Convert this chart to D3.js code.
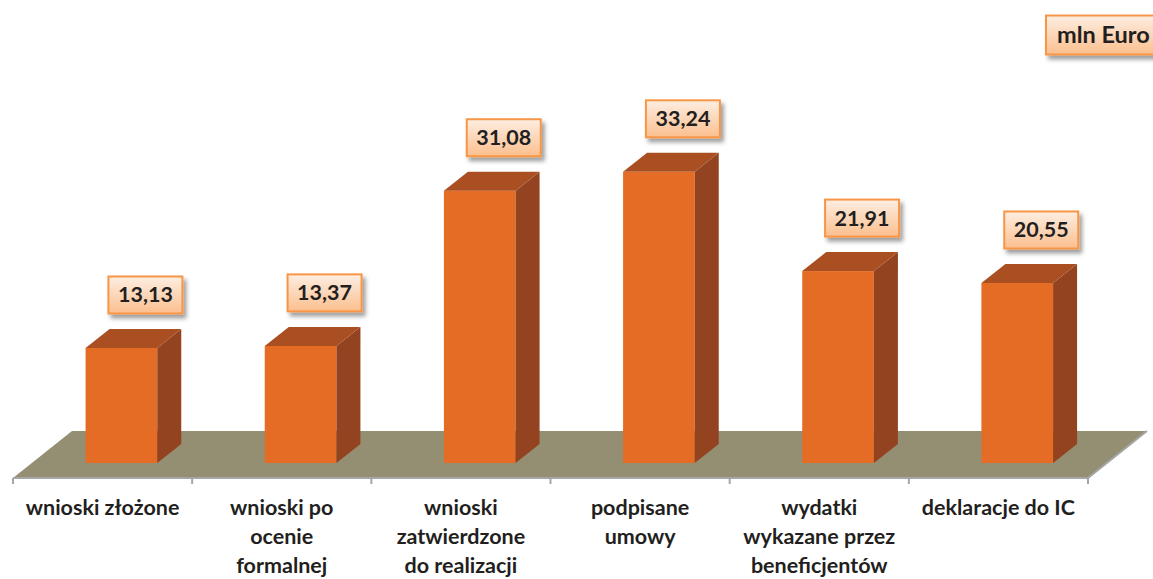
<!DOCTYPE html>
<html><head><meta charset="utf-8">
<script src="https://cdn.jsdelivr.net/npm/d3@7"></script>
<style>body{margin:0;background:#fff;} svg{display:block;}</style>
</head><body>
<svg id="c" width="1153" height="579"></svg>
<script>
const categories = [
  ["wnioski złożone"],
  ["wnioski po","ocenie","formalnej"],
  ["wnioski","zatwierdzone","do realizacji"],
  ["podpisane","umowy"],
  ["wydatki","wykazane przez","beneficjentów"],
  ["deklaracje do IC"]
];
const values = [13.13, 13.37, 31.08, 33.24, 21.91, 20.55];
const valueLabels = ["13,13","13,37","31,08","33,24","21,91","20,55"];
const unitLabel = "mln Euro";

const svg = d3.select("#c");
const font = "Lato, 'Open Sans', sans-serif";

// floor geometry
const floorFrontY = 478, floorDepthX = 59, floorDepthY = 47;
const axisLeft = 13, axisRight = 1088;
const barBaseY = 463;               // front bottom of bars
const frontShift = (floorFrontY - barBaseY) * floorDepthX / floorDepthY;
const barDX = 24, barDY = 19;

const idx = d3.range(values.length);
const x = d3.scaleBand().domain(idx).range([axisLeft, axisRight]).paddingInner(0.6).paddingOuter(0.3);
const y = d3.scaleLinear().domain([0, 40]).range([barBaseY, barBaseY - 40 * 8.76]);

const defs = svg.append("defs");
const g = defs.append("linearGradient").attr("id","boxg").attr("x1",0).attr("y1",0).attr("x2",0).attr("y2",1);
g.append("stop").attr("offset","0%").attr("stop-color","#fdeee2");
g.append("stop").attr("offset","100%").attr("stop-color","#fbbf8e");
const f = defs.append("filter").attr("id","sh").attr("x","-20%").attr("y","-20%").attr("width","150%").attr("height","160%");
f.append("feDropShadow").attr("dx",3).attr("dy",4).attr("stdDeviation",2.2).attr("flood-color","#000").attr("flood-opacity",0.38);

// floor
const fl = [[axisLeft, floorFrontY],[axisLeft+floorDepthX, floorFrontY-floorDepthY],[axisRight+floorDepthX, floorFrontY-floorDepthY],[axisRight, floorFrontY]];
svg.append("polygon").attr("points", fl.map(p=>p.join(",")).join(" ")).attr("fill","#948f72");
svg.append("polyline").attr("points", [[axisLeft, floorFrontY],[axisRight, floorFrontY],[axisRight+floorDepthX, floorFrontY-floorDepthY]].map(p=>p.join(",")).join(" "))
  .attr("fill","none").attr("stroke","#a6a6a6").attr("stroke-width",2);

// ticks at category boundaries
const bounds = d3.range(values.length+1).map(i => axisLeft + i * x.step());
svg.append("g").selectAll("line").data(bounds).join("line")
  .attr("x1",d=>d).attr("x2",d=>d).attr("y1",floorFrontY).attr("y2",floorFrontY+6)
  .attr("stroke","#a6a6a6").attr("stroke-width",2);

// bars
const bars = svg.append("g").selectAll("g").data(idx).join("g");
bars.each(function(i){
  const sel = d3.select(this);
  const x0 = x(i) + frontShift, x1 = x0 + x.bandwidth();
  const yt = y(values[i]), yb = y(0);
  sel.append("rect").attr("x",x0).attr("y",yt).attr("width",x1-x0).attr("height",yb-yt).attr("fill","#e46c24");
  sel.append("polygon").attr("points",[[x1,yt],[x1+barDX,yt-barDY],[x1+barDX,yb-barDY],[x1,yb]].map(p=>p.join(",")).join(" ")).attr("fill","#93431f");
  sel.append("polygon").attr("points",[[x0,yt],[x1,yt],[x1+barDX,yt-barDY],[x0+barDX,yt-barDY]].map(p=>p.join(",")).join(" ")).attr("fill","#aa4f22");
});

// value label boxes
function box(cx, cy, w, h, txt, anchorLeft, fs){
  const gg = svg.append("g");
  const bx = anchorLeft ? cx : cx - w/2;
  gg.append("rect").attr("x",bx).attr("y",cy-h/2).attr("width",w).attr("height",h)
    .attr("fill","url(#boxg)").attr("stroke","#f79646").attr("stroke-width",2).attr("filter","url(#sh)");
  gg.append("text").attr("x", anchorLeft ? bx+11 : cx).attr("y",cy+7.5).attr("text-anchor", anchorLeft ? "start" : "middle")
    .attr("font-family",font).attr("font-weight",700).attr("font-size",fs).attr("fill","#231f20").text(txt);
}
idx.forEach(i => {
  const cx = x(i) + frontShift + x.bandwidth()/2 + barDX;
  const cy = y(values[i]) - 53;
  box(cx, cy, 74, 37, valueLabels[i], false, 21.5);
});
box(1046, 35, 125, 39, unitLabel, true, 23.5);

// category labels
const lab = svg.append("g");
idx.forEach(i => {
  const cx = axisLeft + (i + 0.5) * x.step();
  categories[i].forEach((line, k) => {
    lab.append("text").attr("x",cx).attr("y",515 + k*29).attr("text-anchor","middle")
      .attr("font-family",font).attr("font-weight",700).attr("font-size",21.5).attr("fill","#231f20").text(line);
  });
});
</script>
</body></html>
